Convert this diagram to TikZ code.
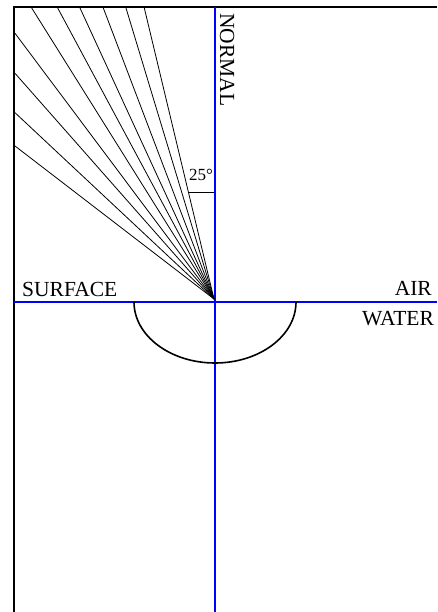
\documentclass[tikz,border=0pt]{standalone}
\usepackage{fontspec}
\setmainfont{Liberation Serif}
\begin{document}
\begin{tikzpicture}[x=1pt,y=-1pt,
  frame/.style={line width=2pt,black},
  axis/.style={line width=2pt,color={rgb,255:red,0;green,0;blue,255}},
  ray/.style={line width=0.8pt,black},
  lab/.style={inner sep=0pt,font=\fontsize{21.5}{24}\selectfont},
  anglab/.style={inner sep=0pt,font=\fontsize{17}{20}\selectfont}]
\useasboundingbox (0,0) rectangle (437,612);
% frame
\coordinate (tl) at (14,7);
\coordinate (tr) at (437,7);
\coordinate (bl) at (14,612);
\draw[frame] (tr) -- (tl) -- (bl);
% axes
\coordinate (sl) at (14,302);
\coordinate (sr) at (437,302);
\coordinate (nt) at (215,7);
\coordinate (nb) at (215,612);
\draw[axis] (sl) -- (sr);
\draw[axis] (nt) -- (nb);
% rays
\coordinate (o) at (214,299);
\foreach \i/\x in {1/144.3,2/126,3/103.3,4/80,5/57.7,6/31.7}{
  \coordinate (t\i) at (\x,8);
  \draw[ray] (o) -- (t\i);
}
\foreach \i/\y in {1/33.3,2/73.3,3/112.7,4/146}{
  \coordinate (l\i) at (15,\y);
  \draw[ray] (o) -- (l\i);
}
% angle mark
\coordinate (ma) at (188.5,192.3);
\coordinate (mb) at (214,192.3);
\draw[ray] (ma) -- (mb);
\node[anglab,anchor=base west] (ang) at (189,181) {25\textdegree};
% half ellipse
\coordinate (el) at (134,302);
\draw[line width=1.6pt] (el) arc[start angle=180,end angle=360,x radius=81pt,y radius=61pt];
% labels
\node[lab,anchor=base west] (surface) at (22,296) {SURFACE};
\node[lab,anchor=base east] (air) at (432,295) {AIR};
\node[lab,anchor=base west] (water) at (362,325) {WATER};
\node[lab,anchor=base west,rotate=-90] (normal) at (220,13) {NORMAL};
\end{tikzpicture}
\end{document}
